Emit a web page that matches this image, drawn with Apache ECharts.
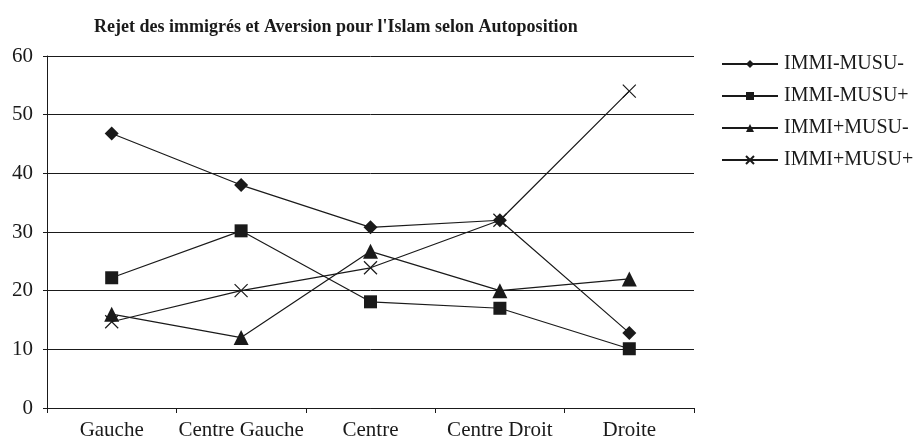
<!DOCTYPE html>
<html>
<head>
<meta charset="utf-8">
<script src="https://cdn.jsdelivr.net/npm/echarts@6/dist/echarts.min.js"></script>
<style>
  html, body { margin: 0; padding: 0; background: #fff; }
  #chart01 { width: 916px; height: 442px; }
</style>
</head>
<body>
<div id="chart01"></div>
<script>
var categories = ['Gauche', 'Centre Gauche', 'Centre', 'Centre Droit', 'Droite'];
var seriesNames = ['IMMI-MUSU-', 'IMMI-MUSU+', 'IMMI+MUSU-', 'IMMI+MUSU+'];
var immiMoinsMusuMoins = [46.8, 38, 30.8, 32, 12.8];
var immiMoinsMusuPlus = [22.2, 30.2, 18.1, 17, 10.1];
var immiPlusMusuMoins = [16, 12, 26.7, 20, 22];
var immiPlusMusuPlus = [14.7, 20, 23.9, 32, 54];
var yTicks = [0, 10, 20, 30, 40, 50, 60];

var fontFam = '"Liberation Serif", "DejaVu Serif", serif';
var ink = '#1a1a1a';

function serie(name, data, symbol, size) {
    return {
        name: name,
        type: 'line',
        data: data,
        symbol: symbol,
        symbolSize: size,
        showAllSymbol: true,
        lineStyle: { color: ink, width: 1.2 },
        itemStyle: { color: ink, borderColor: ink, borderWidth: symbol.indexOf('path://') === 0 ? 1.2 : 0 },
        emphasis: { disabled: true }
    };
}

function chart01(id) {
    var myChart = echarts.init(document.getElementById(id));
    var option = {
        animation: false,
        title: {
            text: "Rejet des immigrés et Aversion pour l'Islam selon Autoposition",
            left: 89,
            top: 13,
            textStyle: {
                fontFamily: fontFam,
                fontSize: 18,
                fontWeight: 'bold',
                color: ink
            }
        },
        grid: {
            left: 47,
            right: 222,
            top: 56,
            bottom: 34
        },
        legend: {
            orient: 'vertical',
            left: 716,
            top: 49,
            itemWidth: 56,
            itemHeight: 10,
            itemGap: 12,
            textStyle: {
                fontFamily: fontFam,
                fontSize: 20,
                lineHeight: 20,
                color: ink,
                padding: [0, 0, 0, 1]
            },
            data: seriesNames
        },
        xAxis: {
            type: 'category',
            data: categories,
            boundaryGap: true,
            axisLine: { show: true, lineStyle: { color: ink, width: 1 } },
            axisTick: { show: true, length: 5, lineStyle: { color: ink } },
            splitLine: { show: false },
            axisLabel: {
                fontFamily: fontFam,
                fontSize: 21,
                color: ink,
                margin: 12,
                interval: 0
            }
        },
        yAxis: {
            type: 'value',
            min: yTicks[0],
            max: yTicks[yTicks.length - 1],
            interval: 10,
            axisLine: { show: true, lineStyle: { color: ink, width: 1 } },
            axisTick: { show: true, length: 4, lineStyle: { color: ink } },
            splitLine: { show: true, lineStyle: { color: ink, width: 1 } },
            axisLabel: {
                fontFamily: fontFam,
                fontSize: 21,
                color: ink,
                margin: 14
            }
        },
        series: [
            serie(seriesNames[0], immiMoinsMusuMoins, 'diamond', 14),
            serie(seriesNames[1], immiMoinsMusuPlus, 'rect', 13),
            serie(seriesNames[2], immiPlusMusuMoins, 'triangle', 15),
            serie(seriesNames[3], immiPlusMusuPlus, 'path://M0,0L10,10M10,0L0,10', 13)
        ]
    };
    myChart.setOption(option);
    return myChart;
}

var chartInit01 = chart01('chart01');
</script>
</body>
</html>
